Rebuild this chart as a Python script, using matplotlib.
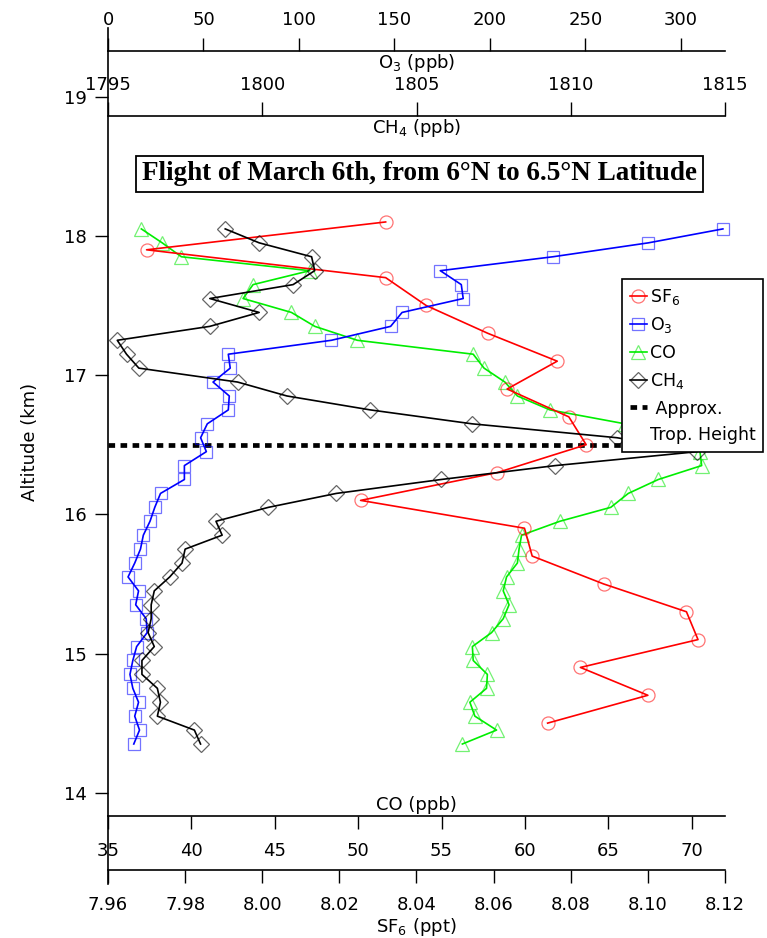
import numpy as np
import matplotlib
matplotlib.use("Agg")
import matplotlib.pyplot as plt
from matplotlib.lines import Line2D

plt.rcParams['font.family'] = 'DejaVu Sans'
plt.rcParams['mathtext.fontset'] = 'dejavusans'

# SF6 profile (sampled every 200 m)
alt_sf6 = [18.1, 17.9, 17.7, 17.5, 17.3, 17.1, 16.9, 16.7, 16.5, 16.3,
           16.1, 15.9, 15.7, 15.5, 15.3, 15.1, 14.9, 14.7, 14.5]
sf6 = [8.032, 7.970, 8.032, 8.0425, 8.0585, 8.0765, 8.0635, 8.0795, 8.084, 8.061,
       8.0255, 8.068, 8.070, 8.0885, 8.110, 8.113, 8.0825, 8.100, 8.074]

# O3 / CO / CH4 profiles (sampled every 100 m)
alt_obs = [18.05, 17.95, 17.85, 17.75, 17.65, 17.55, 17.45, 17.35, 17.25, 17.15,
           17.05, 16.95, 16.85, 16.75, 16.65, 16.55, 16.45, 16.35, 16.25, 16.15,
           16.05, 15.95, 15.85, 15.75, 15.65, 15.55, 15.45, 15.35, 15.25, 15.15,
           15.05, 14.95, 14.85, 14.75, 14.65, 14.55, 14.45, 14.35]
o3 = [322, 283, 233, 174, 185, 186, 154, 148, 117, 63,
      64, 55, 63.5, 63, 52, 48.5, 51.5, 40, 40, 27.5,
      24.5, 22, 18.5, 17, 14, 10.5, 16, 14.5, 20, 20.5,
      15, 13, 11.5, 13, 16, 14, 16.5, 13.5]
co = [37.0, 38.25, 39.4, 47.1, 43.7, 43.1, 46.0, 47.4, 49.95, 56.9,
      57.55, 58.8, 59.55, 61.5, 66.0, 68.5, 70.5, 70.6, 68.0, 66.2,
      65.15, 62.1, 59.8, 59.65, 59.55, 58.9, 58.7, 59.05, 58.7, 58.0,
      56.85, 56.9, 57.75, 57.7, 56.7, 57.0, 58.3, 56.25]
ch4 = [1798.8, 1799.9, 1801.6, 1801.7, 1801.0, 1798.3, 1799.9, 1798.3, 1795.3, 1795.6,
       1796.0, 1799.2, 1800.8, 1803.5, 1806.8, 1811.5, 1814.1, 1809.5, 1805.8, 1802.4,
       1800.2, 1798.5, 1798.7, 1797.5, 1797.4, 1797.0, 1796.5, 1796.4, 1796.4, 1796.3,
       1796.5, 1796.1, 1796.1, 1796.6, 1796.7, 1796.6, 1797.8, 1798.0]

trop_height = 16.5

alt_ticks = [14, 15, 16, 17, 18, 19]
co_ticks = [35, 40, 45, 50, 55, 60, 65, 70]
sf6_ticks = [7.96, 7.98, 8.00, 8.02, 8.04, 8.06, 8.08, 8.10, 8.12]
o3_ticks = [0, 50, 100, 150, 200, 250, 300]
ch4_ticks = [1795, 1800, 1805, 1810, 1815]

W, H = 767, 938
fig = plt.figure(figsize=(W / 100, H / 100), dpi=100)
ax = fig.add_axes([108 / W, 1 - 815.7 / H, 617 / W, 764.7 / H])
ax_sf6 = ax.twiny()
ax_o3 = ax.twiny()
ax_ch4 = ax.twiny()

for a in (ax, ax_sf6, ax_o3, ax_ch4):
    for s in a.spines.values():
        s.set_visible(False)
        s.set_linewidth(1.2)

ax.spines['left'].set_visible(True)
ax.spines['bottom'].set_visible(True)
ax_sf6.spines['bottom'].set_visible(True)
ax_sf6.spines['bottom'].set_position(('axes', -0.0710))
ax_sf6.xaxis.set_ticks_position('bottom')
ax_o3.spines['top'].set_visible(True)
ax_ch4.spines['top'].set_visible(True)
ax_ch4.spines['top'].set_position(('axes', 0.9154))

ax.set_ylim(13.835, 19.328)
ax.set_xlim(35, 72.0)
ax_sf6.set_xlim(7.96, 8.12)
ax_o3.set_xlim(0, 323.1)
ax_ch4.set_xlim(1795, 1815)

ax.set_yticks(alt_ticks)
ax.set_xticks(co_ticks)
ax_sf6.set_xticks(sf6_ticks)
ax_sf6.set_xticklabels(['%.2f' % v for v in sf6_ticks])
ax_o3.set_xticks(o3_ticks)
ax_ch4.set_xticks(ch4_ticks)

ax.tick_params(axis='y', direction='out', length=9.5, width=1, labelsize=13, pad=5.5)
ax.tick_params(axis='x', direction='out', length=9.7, width=1, labelsize=13, pad=9)
ax_sf6.tick_params(axis='x', direction='out', length=9.7, width=1, labelsize=13, pad=9)
ax_o3.tick_params(axis='x', direction='out', length=9.5, width=1, labelsize=13, pad=6)
ax_ch4.tick_params(axis='x', direction='out', length=10, width=1, labelsize=13, pad=5.5)

# extend the altitude axis line through the outer scales
fig.add_artist(Line2D([108 / W, 108 / W], [1 - 28 / H, 1 - 51 / H], color='black', lw=1.2))
fig.add_artist(Line2D([108 / W, 108 / W], [1 - 815.7 / H, 1 - 884 / H], color='black', lw=1.2))

mew = 0.9
ax.axhline(trop_height, color='black', lw=3.4, ls=(0, (1.4, 1.15)), zorder=1)
ax_ch4.plot(ch4, alt_obs, color='black', lw=1.2, marker='D', ms=8.0, mfc='none',
            mec=(0, 0, 0, 0.6), mew=mew, clip_on=False)
ax.plot(co, alt_obs, color='#00ee00', lw=1.2, marker='^', ms=9.5, mfc='none',
        mec=(0, 0.9, 0, 0.55), mew=mew, clip_on=False)
ax_o3.plot(o3, alt_obs, color='blue', lw=1.2, marker='s', ms=8.4, mfc='none',
           mec=(0, 0, 1, 0.55), mew=mew, clip_on=False)
ax_sf6.plot(sf6, alt_sf6, color='red', lw=1.2, marker='o', ms=9.4, mfc='none',
            mec=(1, 0, 0, 0.55), mew=mew, clip_on=False)

# axis titles sit just inside each scale line
ax.text(0.5, 0.9843, 'O$_3$ (ppb)', transform=ax.transAxes, ha='center', va='center', fontsize=13)
ax.text(0.5, 0.8993, 'CH$_4$ (ppb)', transform=ax.transAxes, ha='center', va='center', fontsize=13)
ax.text(0.5, 0.014, 'CO (ppb)', transform=ax.transAxes, ha='center', va='center', fontsize=13)
ax.text(0.5, -0.1452, 'SF$_6$ (ppt)', transform=ax.transAxes, ha='center', va='center', fontsize=13)
fig.text(30 / W, 1 - 442 / H, 'Altitude (km)', rotation=90, ha='center', va='center', fontsize=13)

fig.text(419.4 / W, 1 - 174 / H, 'Flight of March 6th, from 6°N to 6.5°N Latitude',
         family='Liberation Serif', weight='bold', fontsize=19.5, ha='center', va='center',
         bbox=dict(boxstyle='square,pad=0.22', fc='white', ec='black', lw=1.3))

handles = [
    Line2D([], [], color='red', lw=1.2, marker='o', ms=9.4, mfc='none', mec=(1, 0, 0, 0.55), mew=mew),
    Line2D([], [], color='blue', lw=1.2, marker='s', ms=8.4, mfc='none', mec=(0, 0, 1, 0.55), mew=mew),
    Line2D([], [], color='#00ee00', lw=1.2, marker='^', ms=9.5, mfc='none', mec=(0, 0.9, 0, 0.55), mew=mew),
    Line2D([], [], color='black', lw=1.2, marker='D', ms=8.0, mfc='none', mec=(0, 0, 0, 0.6), mew=mew),
    Line2D([], [], color='black', lw=3.4, ls=(0, (1.4, 1.15))),
    Line2D([], [], ls='none'),
]
labels = ['SF$_6$', 'O$_3$', 'CO', 'CH$_4$', ' Approx.', 'Trop. Height']
leg = fig.legend(handles, labels, loc='upper left', bbox_to_anchor=(622 / W, 1 - 279 / H),
                 fontsize=12.5, handlelength=1.0, handletextpad=0.15, labelspacing=0.5,
                 borderpad=0.45, borderaxespad=0, frameon=True, fancybox=False,
                 edgecolor='black', framealpha=1)
leg.get_frame().set_linewidth(1.2)

fig.savefig('out.png', dpi=100)
